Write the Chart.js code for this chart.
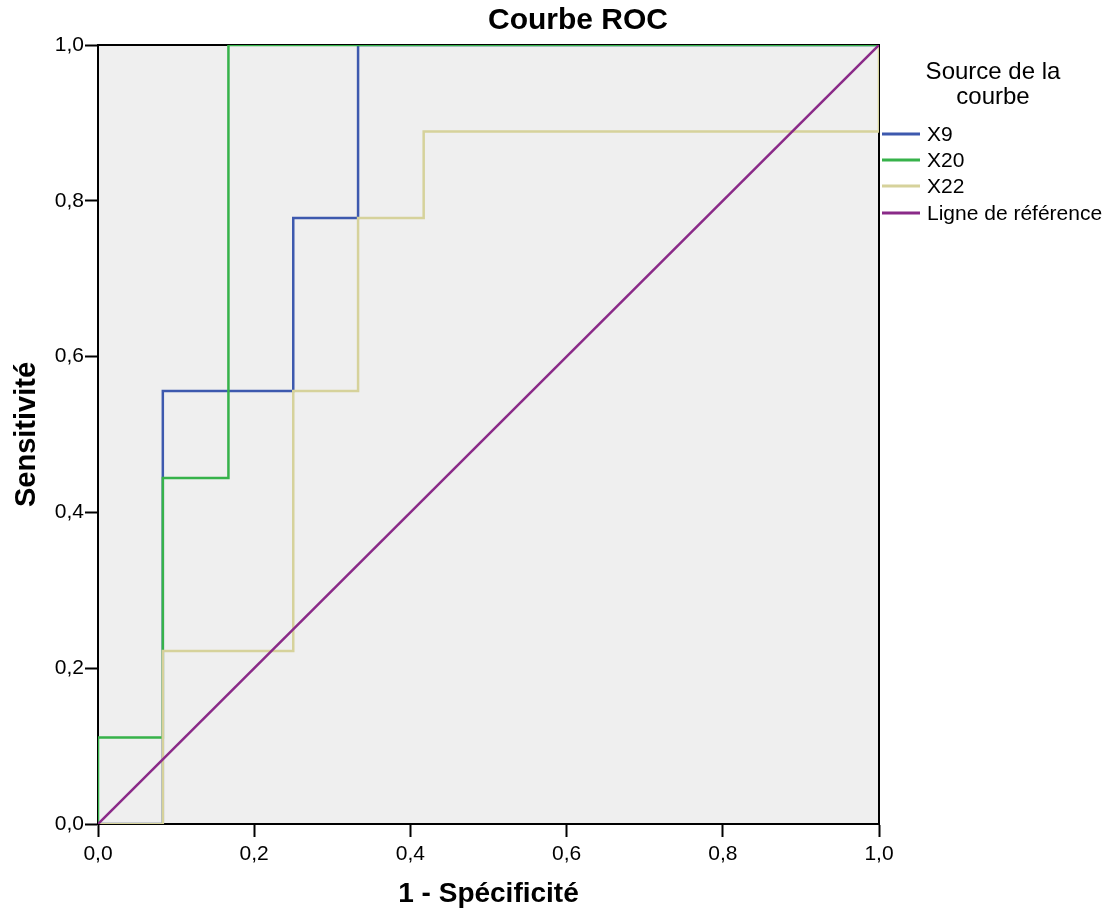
<!DOCTYPE html>
<html>
<head>
<meta charset="utf-8">
<script src="https://cdn.jsdelivr.net/npm/chart.js@4/dist/chart.umd.min.js"></script>
<style>
html,body{margin:0;padding:0;background:#fff;}
#wrap{width:1110px;height:914px;position:relative;}
</style>
</head>
<body>
<div id="wrap"><canvas id="c" width="1110" height="914"></canvas></div>
<script>
// ---- data ----
const seriesNames = ['X9', 'X20', 'X22', 'Ligne de référence'];
const x9Fpr  = [0, 0.083, 0.083, 0.25, 0.25, 0.333, 0.333, 1];
const x9Tpr  = [0, 0, 0.556, 0.556, 0.778, 0.778, 1, 1];
const x20Fpr = [0, 0, 0.083, 0.083, 0.167, 0.167, 1];
const x20Tpr = [0, 0.111, 0.111, 0.444, 0.444, 1, 1];
const x22Fpr = [0, 0.083, 0.083, 0.25, 0.25, 0.333, 0.333, 0.417, 0.417, 1, 1];
const x22Tpr = [0, 0, 0.222, 0.222, 0.556, 0.556, 0.778, 0.778, 0.889, 0.889, 1];
const refFpr = [0, 1];
const refTpr = [0, 1];
const tickValues = [0, 0.2, 0.4, 0.6, 0.8, 1.0];

const colors = ['#3d59ae', '#36b24a', '#d6d29b', '#8a2a88'];
const FONT = "'Liberation Sans', Arial, sans-serif";

function pts(xs, ys) { return xs.map((x, i) => ({x: x, y: ys[i]})); }
function fmt(v) { return v.toFixed(1).replace('.', ','); }

const allSeries = [[x9Fpr, x9Tpr], [x20Fpr, x20Tpr], [x22Fpr, x22Tpr], [refFpr, refTpr]];
const datasets = allSeries.map((s, i) => ({
  label: seriesNames[i],
  data: pts(s[0], s[1]),
  showLine: true,
  borderColor: colors[i],
  backgroundColor: colors[i],
  borderWidth: 2.5,
  pointRadius: 0,
  tension: 0,
  order: 4 - i
}));

const framePlugin = {
  id: 'frame',
  beforeDatasetsDraw(chart) {
    const {ctx, chartArea: a} = chart;
    ctx.save();
    ctx.fillStyle = '#efefef';
    ctx.fillRect(a.left, a.top, a.right - a.left, a.bottom - a.top);
    ctx.strokeStyle = '#000';
    ctx.lineWidth = 2;
    ctx.strokeRect(a.left, a.top, a.right - a.left, a.bottom - a.top);
    ctx.restore();
  }
};

const textPlugin = {
  id: 'texts',
  afterDraw(chart) {
    const {ctx} = chart;
    ctx.save();
    ctx.fillStyle = '#000';
    ctx.textAlign = 'center';
    ctx.textBaseline = 'middle';
    ctx.font = 'bold 30px ' + FONT;
    ctx.fillText('Courbe ROC', 578, 21);
    // legend
    ctx.font = '24px ' + FONT;
    ctx.fillText('Source de la', 993, 72);
    ctx.fillText('courbe', 993, 97);
    ctx.font = '21px ' + FONT;
    const ys = [134, 160, 186, 213];
    chart.data.datasets.forEach((d, i) => {
      ctx.strokeStyle = d.borderColor;
      ctx.lineWidth = 3;
      ctx.beginPath();
      ctx.moveTo(882, ys[i]);
      ctx.lineTo(920, ys[i]);
      ctx.stroke();
      ctx.textAlign = 'left';
      ctx.fillStyle = '#000';
      ctx.fillText(d.label, 927, ys[i] + 1);
    });
    ctx.restore();
  }
};

const axisCommon = {
  type: 'linear',
  min: 0,
  max: 1,
  afterBuildTicks(scale) { scale.ticks = tickValues.map(v => ({value: v})); },
  grid: {drawOnChartArea: false, drawTicks: true, tickLength: 13, tickColor: '#000', tickWidth: 2, color: '#000'},
  border: {display: true, color: '#000', width: 2}
};

new Chart(document.getElementById('c'), {
  type: 'scatter',
  data: {datasets: datasets},
  plugins: [framePlugin, textPlugin],
  options: {
    responsive: false,
    animation: false,
    layout: {padding: {top: 45, right: 231, left: 0, bottom: 0}},
    plugins: {legend: {display: false}, title: {display: false}, tooltip: {enabled: false}},
    scales: {
      x: Object.assign({}, axisCommon, {
        position: 'bottom',
        afterFit(s) { s.height = 90; },
        ticks: {padding: 5, color: '#000', font: {family: FONT, size: 21}, maxRotation: 0, callback: v => fmt(v)},
        title: {display: true, text: '1 - Spécificité', color: '#000', font: {family: FONT, size: 28, weight: 'bold'}, padding: {top: 0, bottom: 3}}
      }),
      y: Object.assign({}, axisCommon, {
        position: 'left',
        afterFit(s) { s.width = 98; },
        ticks: {padding: 1, color: '#000', font: {family: FONT, size: 21}, callback: v => fmt(v)},
        title: {display: true, text: 'Sensitivité', color: '#000', font: {family: FONT, size: 29, weight: 'bold'}, padding: {top: 10, bottom: 0}}
      })
    }
  }
});
</script>
</body>
</html>
